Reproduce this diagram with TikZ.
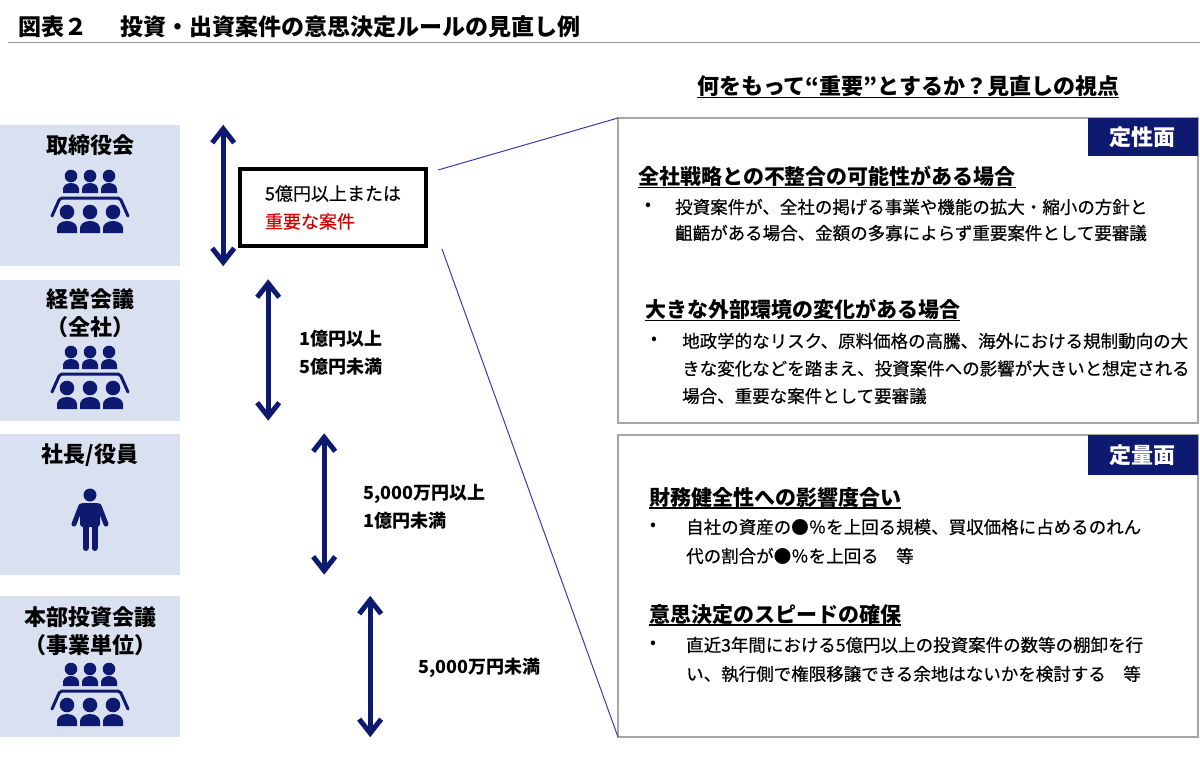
\documentclass[tikz,border=0pt]{standalone}
\usepackage{fontspec}
\setmainfont{Noto Sans CJK JP}
\newfontfamily\medium{Noto Sans CJK JP}[FakeBold=0.5]
\usepackage{tikz}
\usetikzlibrary{arrows.meta}

\definecolor{navy}{RGB}{14,26,112}
\definecolor{pale}{RGB}{217,225,241}
\definecolor{linkblue}{RGB}{50,62,170}
\definecolor{panelgray}{RGB}{166,166,166}
\definecolor{rulegray}{RGB}{150,150,150}
\definecolor{alert}{RGB}{208,0,0}

\newcommand{\setfs}[2]{\fontsize{#1pt}{#2pt}\selectfont}
\newcommand{\ulhead}[1]{\setbox0=\hbox{#1}\rlap{\rule[-3.4pt]{\wd0}{1.3pt}}\box0}

\newcommand{\meetingicon}[1]{%
\begin{scope}[shift={#1}]
\foreach \i in {-19,0,19}{
  \fill[navy] (\i,-25) circle (6.3);
  \fill[navy] (\i-8,-8) -- (\i-8,-12) arc[start angle=180, end angle=360, x radius=8, y radius=6] -- (\i+8,-8) -- cycle;
}
\draw[navy, line width=3pt, rounded corners=2pt, line cap=round] (-38,15) -- (-30,-3) -- (30,-3) -- (38,15);
\foreach \i in {-23,0,23}{
  \fill[navy] (\i,11) circle (7.3);
  \fill[navy] (\i-10,32) -- (\i-10,27) arc[start angle=180, end angle=360, x radius=10, y radius=7] -- (\i+10,32) -- cycle;
}
\end{scope}}

\newcommand{\personicon}[1]{%
\begin{scope}[shift={#1}]
\fill[navy] (0,-24) circle (6.5);
\fill[navy, rounded corners=3pt] (-10,-16) rectangle (10,8);
\draw[navy, line width=5pt, line cap=round] (-9,-13) -- (-16,5) (9,-13) -- (16,5);
\draw[navy, line width=6pt, line cap=round] (-4.5,6) -- (-4.5,29) (4.5,6) -- (4.5,29);
\end{scope}}

\begin{document}
\begin{tikzpicture}[x=1pt, y=-1pt,
  orgbox/.style={fill=pale, minimum width=180pt, minimum height=141pt, inner sep=0pt},
  orglabel/.style={align=center, inner sep=0pt, font=\setfs{22}{28}\bfseries},
  spanarrow/.style={draw=navy, line width=5pt, >={Straight Barb[length=14pt,width=22pt]}, <->},
  amount/.style={anchor=west, align=left, inner sep=0pt, font=\setfs{18}{28}\bfseries},
  critbox/.style={draw=black, line width=4pt, minimum width=186pt, minimum height=77pt, align=left, font=\setfs{18}{28}\medium},
  link/.style={draw=linkblue, line width=1pt},
  panel/.style={draw=panelgray, line width=1.3pt, minimum width=580pt, inner sep=0pt, outer sep=0pt},
  tag/.style={fill=navy, text=white, font=\setfs{22}{22}\bfseries, minimum width=110pt, inner sep=0pt, anchor=north east},
  head/.style={anchor=west, inner sep=0pt, font=\setfs{21}{21}\bfseries},
  dot/.style={anchor=west, inner sep=0pt, font=\setfs{17.5}{17.5}},
  body/.style={anchor=west, align=left, inner sep=0pt, font=\setfs{17.5}{#1}\medium}]

\useasboundingbox (0,0) rectangle (1200,760);

\node[anchor=west, inner sep=0pt, font=\setfs{23}{23}\bfseries] (title) at (18,27) {図表２\hspace{33pt}投資・出資案件の意思決定ルールの見直し例};
\draw[rulegray, line width=1pt] (8,43) -- (1200,43);

\node[inner sep=0pt, font=\setfs{22}{22}\bfseries] (view) at (908,87) {\ulhead{何をもって“重要”とするか？見直しの視点}};

\node[orgbox] (bod) at (90,195.5) {};
\node[orgbox] (mgmt) at (90,350) {};
\node[orgbox] (ceo) at (90,504) {};
\node[orgbox] (div) at (90,666.5) {};

\node[orglabel] (bodlab) at (90,145) {取締役会};
\node[orglabel] (mgmtlab) at (90,313) {経営会議\\（全社）};
\node[orglabel] (ceolab) at (90,455) {社長/役員};
\node[orglabel] (divlab) at (90,631) {本部投資会議\\（事業単位）};

\meetingicon{(90,201)}
\meetingicon{(90,377)}
\personicon{(90,519)}
\meetingicon{(90,694)}

\draw[spanarrow] ([xshift=43pt]bod.north east) -- ([xshift=43pt]bod.south east);
\draw[spanarrow] ([xshift=88pt]mgmt.north east) -- ([xshift=88pt]mgmt.south east);
\draw[spanarrow] ([xshift=144pt]ceo.north east) -- ([xshift=144pt]ceo.south east);
\draw[spanarrow] ([xshift=190pt]div.north east) -- ([xshift=190pt]div.south east);

\node[critbox] (crit) at (333,207.5) {5億円以上または\\\textcolor{alert}{重要な案件}};
\node[amount] (amt2) at (299,353) {1億円以上\\5億円未満};
\node[amount] (amt3) at (363,506.5) {5,000万円以上\\1億円未満};
\node[amount] (amt4) at (418,668) {5,000万円未満};

\node[panel, minimum height=305pt] (qual) at (908,270.5) {};
\node[panel, minimum height=302pt] (quant) at (908,586) {};
\node[tag, minimum height=38pt] (qualtag) at (qual.north east) {定性面};
\node[tag, minimum height=40pt] (quanttag) at (quant.north east) {定量面};

\draw[link] ([xshift=10pt,yshift=-3pt]crit.north east) -- (qual.north west);
\draw[link] ([xshift=14pt,yshift=-1pt]crit.south east) -- (quant.south west);

\node[head] (h1) at (638,177) {\ulhead{全社戦略との不整合の可能性がある場合}};
\node[dot] (d1) at (645,207) {•};
\node[body=26] (t1) at (675,220) {投資案件が、全社の掲げる事業や機能の拡大・縮小の方針と\\齟齬がある場合、金額の多寡によらず重要案件として要審議};

\node[head] (h2) at (645,310) {\ulhead{大きな外部環境の変化がある場合}};
\node[dot] (d2) at (651,341) {•};
\node[body=27.5] (t2) at (682,368.5) {地政学的なリスク、原料価格の高騰、海外における規制動向の大\\きな変化などを踏まえ、投資案件への影響が大きいと想定される\\場合、重要な案件として要審議};

\node[head] (h3) at (649,498) {\ulhead{財務健全性への影響度合い}};
\node[dot] (d3) at (650,527) {•};
\node[body=29] (t3) at (686,541.5) {自社の資産の●％を上回る規模、買収価格に占めるのれん\\代の割合が●％を上回る　等};

\node[head] (h4) at (649,615) {\ulhead{意思決定のスピードの確保}};
\node[dot] (d4) at (650,645) {•};
\node[body=29] (t4) at (686,659.5) {直近3年間における5億円以上の投資案件の数等の棚卸を行\\い、執行側で権限移譲できる余地はないかを検討する　等};

\end{tikzpicture}
\end{document}
